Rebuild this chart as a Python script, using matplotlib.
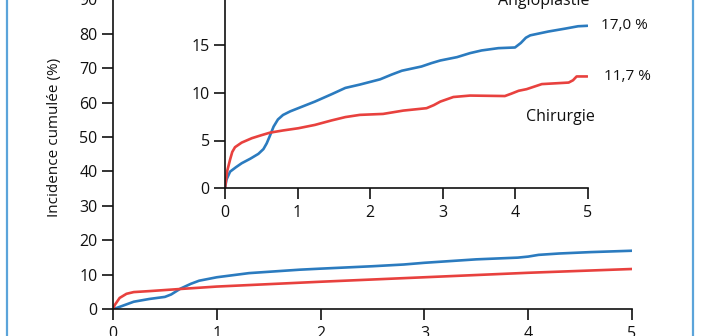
import matplotlib.pyplot as plt
from matplotlib.lines import Line2D

# main panel, 0-5 years
main_angio_t = [0, 0.1, 0.2, 0.35, 0.5, 0.56, 0.65, 0.75, 0.83, 1.0, 1.31, 1.8, 2.0, 2.5, 2.8, 3.0, 3.5, 3.9, 4.0, 4.1, 4.3, 4.6, 5.0]
main_angio = [0, 1.1, 2.2, 3.0, 3.6, 4.3, 6.0, 7.4, 8.3, 9.3, 10.5, 11.5, 11.8, 12.5, 13.0, 13.5, 14.5, 15.0, 15.3, 15.8, 16.2, 16.6, 17.0]
main_chir_t = [0, 0.016, 0.064, 0.13, 0.2, 0.36, 0.65, 1.0, 2.0, 3.0, 4.0, 5.0]
main_chir = [0, 1.2, 3.3, 4.5, 5.0, 5.3, 5.9, 6.6, 8.0, 9.3, 10.6, 11.7]

# inset, zoomed on 0-20 %
inset_angio_t = [0, 0.02, 0.07, 0.15, 0.23, 0.35, 0.46, 0.53, 0.575, 0.62, 0.67, 0.73, 0.8, 0.9, 1.01,
                 1.24, 1.47, 1.66, 1.86, 2.14, 2.3, 2.44, 2.71, 2.85, 2.97, 3.2, 3.38, 3.54, 3.77,
                 4.0, 4.08, 4.15, 4.21, 4.46, 4.69, 4.87, 5.0]
inset_angio = [0, 0.9, 1.74, 2.2, 2.62, 3.1, 3.6, 4.1, 4.7, 5.5, 6.45, 7.2, 7.67, 8.05, 8.38,
               9.07, 9.84, 10.5, 10.85, 11.4, 11.9, 12.3, 12.74, 13.1, 13.37, 13.72, 14.14, 14.42, 14.66,
               14.73, 15.2, 15.75, 16.0, 16.4, 16.7, 16.95, 17.0]
inset_chir_t = [0, 0.03, 0.07, 0.1, 0.138, 0.23, 0.37, 0.5, 0.62, 0.8, 1.01, 1.24, 1.47, 1.66, 1.86,
                2.18, 2.46, 2.78, 2.88, 2.97, 3.15, 3.38, 3.86, 3.95, 4.05, 4.16, 4.37, 4.74, 4.8,
                4.85, 5.0]
inset_chir = [0, 1.8, 3.0, 3.8, 4.3, 4.78, 5.24, 5.55, 5.82, 6.05, 6.28, 6.63, 7.1, 7.45, 7.68,
              7.78, 8.13, 8.38, 8.7, 9.07, 9.55, 9.7, 9.65, 9.9, 10.2, 10.37, 10.9, 11.06, 11.3,
              11.7, 11.7]

final_angio = 17.0
final_chir = 11.7

BLUE = '#2b7bbf'
RED = '#e8413e'
FRAME = '#5ba4da'
INK = '#111111'

plt.rcParams['font.family'] = ['Open Sans', 'DejaVu Sans']

W, H = 702, 336
fig = plt.figure(figsize=(W / 100, H / 100), dpi=100)


def style(ax, ticklen):
    for s in ('top', 'right'):
        ax.spines[s].set_visible(False)
    for s in ('left', 'bottom'):
        ax.spines[s].set_linewidth(1.2)
        ax.spines[s].set_color(INK)
    ax.tick_params(direction='out', length=ticklen, width=1.2, color=INK,
                   labelsize=11.5, labelcolor=INK, pad=3)
    ax.tick_params(axis='x', pad=4)


def curve(ax, t, y, color):
    ax.plot(t, y, color=color, lw=1.9, solid_joinstyle='round', solid_capstyle='round')


# main axes: 10 % = 34.45 px
main = fig.add_axes([113 / W, (H - 309.3) / H, (632 - 113) / W, 344.5 / H])
curve(main, main_angio_t, main_angio, BLUE)
curve(main, main_chir_t, main_chir, RED)
main.set_xlim(0, 5)
main.set_ylim(0, 100)
main.set_xticks(range(6))
main.set_yticks(range(0, 101, 10))
style(main, 8)
main.patch.set_alpha(0)

# inset axes: 5 % = 47.8 px
inset = fig.add_axes([225 / W, (H - 188.3) / H, (587.5 - 225) / W, 22 * 9.56 / H])
curve(inset, inset_angio_t, inset_angio, BLUE)
curve(inset, inset_chir_t, inset_chir, RED)
inset.set_xlim(0, 5)
inset.set_ylim(0, 22)
inset.set_xticks(range(6))
inset.set_yticks(range(0, 16, 5))
style(inset, 8)
inset.patch.set_alpha(0)

inset.annotate('17,0 %', (5, final_angio), xytext=(10, 0), textcoords='offset points',
               ha='left', va='center', fontsize=11, color=INK)
inset.annotate('11,7 %', (5, final_chir), xytext=(12, 0), textcoords='offset points',
               ha='left', va='center', fontsize=11, color=INK)
inset.text(4.39, 19.2, 'Angioplastie', ha='center', va='baseline', fontsize=11.5, color=INK)
inset.text(4.62, 7.07, 'Chirurgie', ha='center', va='baseline', fontsize=11.5, color=INK)

fig.text(55 / W, 1 - 137.5 / H, 'Incidence cumulée (%)', rotation=90,
         ha='center', va='center', fontsize=11, color=INK)

# light blue frame on both sides
for x in (6.5, 693):
    fig.add_artist(Line2D([x / W, x / W], [0, 1], color=FRAME, lw=1.6, transform=fig.transFigure))

fig.savefig('out.png', dpi=100)
